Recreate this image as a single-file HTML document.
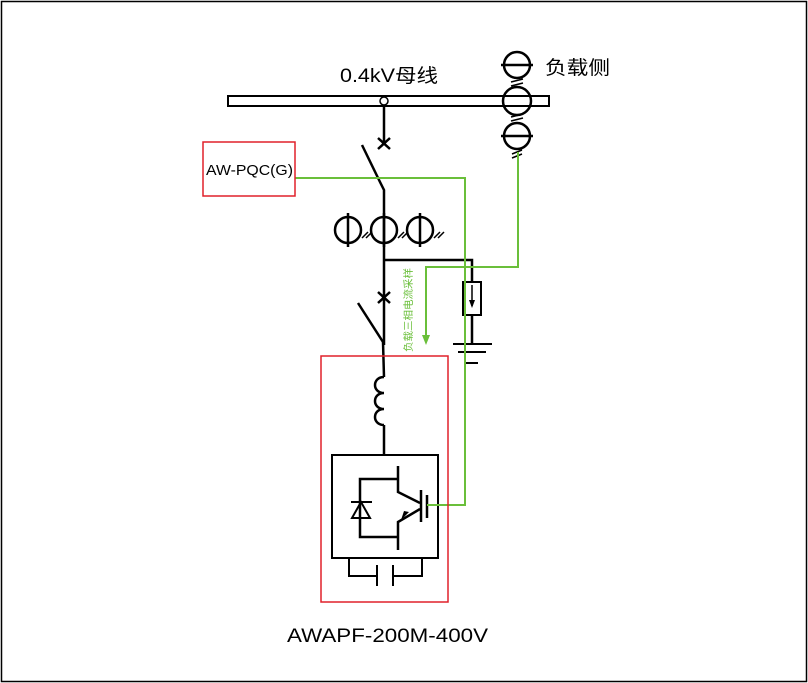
<!DOCTYPE html>
<html><head><meta charset="utf-8"><style>
body{margin:0;background:#fff}
svg{display:block}
text{font-family:"Liberation Sans","Noto Sans CJK SC",sans-serif}
</style></head><body>
<svg width="808" height="683" viewBox="0 0 808 683" xmlns="http://www.w3.org/2000/svg">
<rect x="1.5" y="1.5" width="805" height="680" fill="#fff" stroke="#000" stroke-width="1.5"/>
<g stroke="#000" stroke-width="2.5" fill="none">
<rect x="228" y="96" width="321" height="10" stroke-width="2"/>
<line x1="384" y1="105" x2="384" y2="145"/>
<path d="M378 138l12 11M390 138l-12 11"/>
<path d="M362 145L380 182L384 190L384 345"/>
<circle cx="348" cy="230" r="13"/><line x1="348" y1="213" x2="348" y2="247"/>
<circle cx="384" cy="230" r="13"/><line x1="384" y1="213" x2="384" y2="247"/>
<circle cx="420" cy="230" r="13"/><line x1="420" y1="213" x2="420" y2="247"/>
<path d="M362 238l6-6M366 238l6-6M398 238l6-6M402 238l6-6M434 238l6-6M438 238l6-6" stroke-width="1.5"/>
<path d="M384 260H472V282M472 315V344"/>
<rect x="463" y="282" width="18" height="33" stroke-width="2"/>
<line x1="472" y1="285" x2="472" y2="306" stroke-width="1.5"/>
<path d="M453 344H492M458 352H486M466 363H478" stroke-width="2"/>
<path d="M378 292l12 11M390 292l-12 11"/>
<path d="M358 303L383 342L384 377"/>
<path d="M384 377c-12 0-12 16 0 16c-12 0-12 16 0 16c-12 0-12 16 0 16" stroke-width="2.5"/>
<line x1="384" y1="425" x2="384" y2="455"/>
<rect x="332" y="455" width="106" height="103" stroke-width="2"/>
<path d="M398 466V492L420 503M420 509L398 522V550"/>
<path d="M421 490V522M427 495V518"/>
<path d="M398 479H360V537H398"/>
<path d="M351 502H372M361 502L352 518H370Z" stroke-width="2"/>
<path d="M349 558V576H377M377 565V586M393 565V586M393 576H422V558" stroke-width="2"/>
<circle cx="517" cy="65" r="13"/><line x1="501" y1="65" x2="533" y2="65"/>
<circle cx="517" cy="101" r="14"/>
<circle cx="517" cy="136" r="13"/><line x1="501" y1="136" x2="533" y2="136"/>
<path d="M511 82l12-3M511 86l12-3M511 117l12-3M511 121l12-3M512 154l10-4M512 158l10-4" stroke-width="1.5"/>
<circle cx="384" cy="101" r="4" stroke-width="1.5" fill="#fff"/>
</g>
<polygon points="472,308 469,300 475,300" fill="#000"/>
<polygon points="401,520 409,512 404,511" fill="#000"/>
<g stroke="#6abf3a" stroke-width="2" fill="none">
<path d="M295 178H465V505H427"/>
<path d="M518 152V267H426V340"/>
</g>
<polygon points="426,345 422,335 430,335" fill="#6abf3a"/>
<rect x="203" y="142" width="92" height="54" fill="none" stroke="#e0202a" stroke-width="1.5"/>
<rect x="321" y="356" width="127" height="246" fill="none" stroke="#e0202a" stroke-width="1.5"/>
<text x="340" y="82" font-size="19" textLength="98" lengthAdjust="spacingAndGlyphs">0.4kV母线</text>
<text x="545" y="74" font-size="19" textLength="65" lengthAdjust="spacingAndGlyphs">负载侧</text>
<text x="206" y="175" font-size="15" textLength="87" lengthAdjust="spacingAndGlyphs">AW-PQC(G)</text>
<text x="287" y="642" font-size="19" textLength="201" lengthAdjust="spacingAndGlyphs">AWAPF-200M-400V</text>
<text transform="translate(412,352) rotate(-90)" font-size="10" fill="#6abf3a" textLength="84" lengthAdjust="spacingAndGlyphs">负载三相电流采样</text>
</svg>
</body></html>
